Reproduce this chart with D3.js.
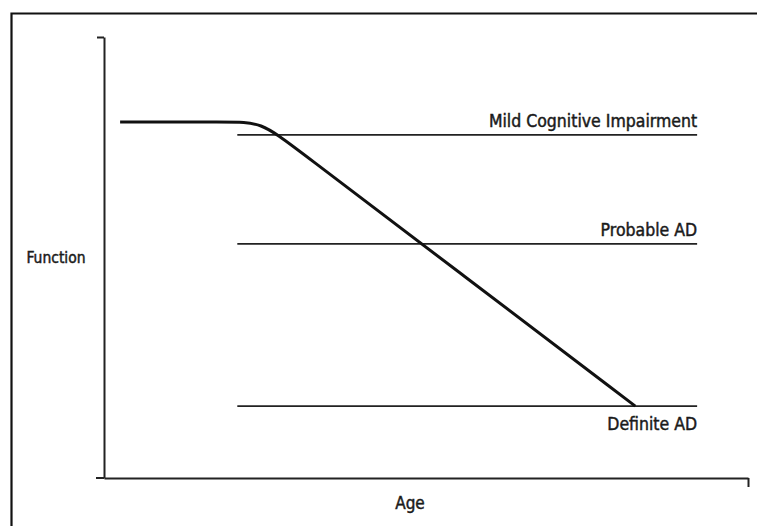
<!DOCTYPE html>
<html><head><meta charset="utf-8">
<script src="https://cdn.jsdelivr.net/npm/d3@7"></script>
<style>
html,body{margin:0;padding:0;background:#fff;}
svg{display:block;}
text{font-family:"Liberation Sans Narrow","DejaVu Sans Condensed","Liberation Sans",sans-serif;fill:#1a1a1a;stroke:#1a1a1a;stroke-width:0.45;}
</style></head>
<body>
<script>
// Data (abstract 0-100 units for Age and Function)
const xDomain = [0, 100];
const yDomain = [0, 100];
const functionCurve = [[2.5,80.7],[19.5,80.7],[24.4,80.7],[29.2,75.4],[56,45.7],[82.5,16.3]];
const thresholdNames = ["Mild Cognitive Impairment","Probable AD","Definite AD"];
const thresholdValues = [77.8, 53.1, 16.3];
const thresholdStart = 20.7;
const thresholdEnd = 92.1;
const axisTitles = {x:"Age", y:"Function"};

const W = 757, H = 526;
const svg = d3.select("body").append("svg").attr("width",W).attr("height",H);

// frame
svg.append("path").attr("d","M11.5,526V13.5H757").attr("fill","none").attr("stroke","#111").attr("stroke-width",2.2);

const x = d3.scaleLinear().domain(xDomain).range([104,748]);
const y = d3.scaleLinear().domain(yDomain).range([478,37]);

// axes
const xAxis = svg.append("g").attr("transform",`translate(0,${y(0)})`)
  .call(d3.axisBottom(x).tickValues([100]).tickSize(9).tickFormat("").tickSizeOuter(0));
const yAxis = svg.append("g").attr("transform",`translate(${x(0)},0)`)
  .call(d3.axisLeft(y).tickValues([100]).tickSize(7).tickFormat("").tickSizeOuter(0));
[xAxis,yAxis].forEach(g=>{
  g.selectAll("path,line").attr("stroke","#222").attr("stroke-width",2);
});
svg.append("line").attr("x1",96).attr("x2",x(0)).attr("y1",y(0)).attr("y2",y(0)).attr("stroke","#222").attr("stroke-width",2);

// threshold lines
thresholdValues.forEach((v,i)=>{
  svg.append("line").attr("x1",x(thresholdStart)).attr("x2",x(thresholdEnd))
    .attr("y1",y(v)).attr("y2",y(v)).attr("stroke","#222").attr("stroke-width",1.6);
  const below = i===2;
  svg.append("text").attr("x",x(thresholdEnd)).attr("y",below? y(v)+24 : y(v)-8)
    .attr("text-anchor","end").attr("font-size",17.5).text(thresholdNames[i]);
});

// curve
const line = d3.line().x(d=>x(d[0])).y(d=>y(d[1])).curve(d3.curveBasis);
svg.append("path").datum(functionCurve).attr("d",line)
  .attr("fill","none").attr("stroke","#111").attr("stroke-width",3);

// axis titles
svg.append("text").attr("x",56).attr("y",263).attr("text-anchor","middle").attr("font-size",15.5).text(axisTitles.y);
svg.append("text").attr("x",410).attr("y",509).attr("text-anchor","middle").attr("font-size",17).text(axisTitles.x);
</script>
</body></html>
